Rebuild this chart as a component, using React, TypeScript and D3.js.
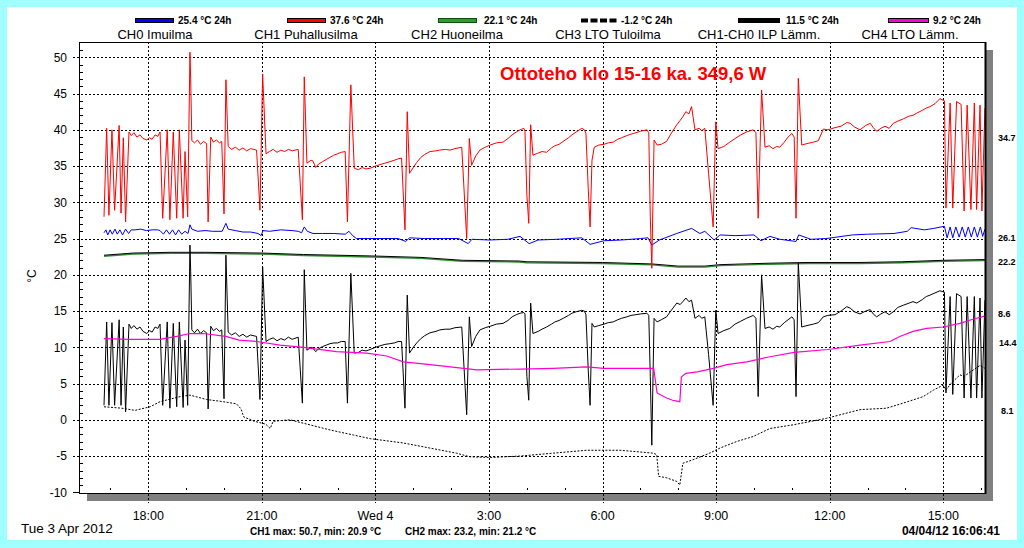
import React, { useEffect, useRef } from 'react';
import * as d3 from 'd3';

type Pt = [number, number];

// time = hours since Tue 3 Apr 00:00, value = °C
const ch0Imuilma: Pt[] = [
  [16.83, 25.8], [16.88, 26.2], [16.93, 25.5], [16.99, 26.2], [17.05, 25.6], [17.12, 26.3], [17.18, 25.6],
  [17.25, 26.2], [17.32, 25.5], [17.4, 26.3], [17.48, 25.7], [17.55, 26.2], [17.65, 26.2], [17.8, 26.3],
  [17.95, 26.1], [18.1, 26.2], [18.25, 26.2], [18.31, 26.1], [18.4, 25.6], [18.48, 26.2], [18.56, 25.6],
  [18.64, 26.2], [18.72, 25.5], [18.8, 26.2], [18.88, 25.6], [18.97, 26.0], [19.05, 25.7], [19.1, 26.9],
  [19.15, 26.3], [19.3, 26.0], [19.5, 26.1], [19.7, 26.0], [19.95, 26.0], [20.05, 27.1], [20.11, 26.3],
  [20.3, 26.1], [20.5, 25.9], [20.7, 25.9], [20.9, 25.7], [20.98, 25.4], [21.03, 26.1], [21.2, 26.0],
  [21.5, 26.2], [21.8, 26.1], [21.96, 26.0], [22.05, 25.8], [22.12, 26.6], [22.2, 26.0], [22.35, 25.7],
  [22.6, 25.7], [22.9, 25.7], [23.2, 25.6], [23.3, 26.0], [23.4, 25.4], [23.5, 25.0], [23.8, 25.0],
  [24.2, 25.0], [24.6, 25.0], [24.8, 24.6], [24.9, 25.1], [25.3, 25.0], [25.8, 25.0], [26.2, 25.0],
  [26.45, 24.3], [26.55, 24.9], [27.0, 24.8], [27.5, 24.9], [27.82, 25.3], [28.06, 24.3], [28.3, 24.8],
  [28.8, 24.9], [29.45, 25.1], [29.67, 24.2], [30.04, 24.7], [30.5, 24.8], [31.0, 25.0], [31.2, 25.1],
  [31.3, 24.1], [31.5, 24.8], [31.96, 25.7], [32.35, 26.4], [32.57, 25.7], [32.7, 26.0], [32.95, 24.8],
  [33.1, 25.5], [33.5, 25.4], [34.0, 25.5], [34.18, 24.7], [34.42, 25.3], [34.68, 24.9], [35.11, 24.6],
  [35.18, 25.5], [35.5, 24.9], [35.9, 25.0], [36.6, 25.5], [37.0, 25.6], [37.7, 25.7], [38.05, 26.0],
  [38.15, 26.5], [38.5, 26.2], [38.75, 26.4], [39.03, 26.7], [39.1, 25.1], [39.18, 26.6], [39.25, 25.1],
  [39.33, 26.6], [39.42, 25.2], [39.5, 26.6], [39.58, 25.2], [39.66, 26.6], [39.74, 25.2], [39.82, 26.6],
  [39.9, 25.2], [39.98, 26.6], [40.04, 25.3], [40.1, 26.3],
];

const ch1Puhallusilma: Pt[] = [
  [16.83, 28.0], [16.9, 40.2], [16.96, 28.2], [17.04, 40.0], [17.11, 28.9], [17.23, 40.6], [17.28, 28.5],
  [17.34, 38.9], [17.4, 27.3], [17.49, 39.7], [17.55, 39.2], [17.62, 39.6], [17.7, 39.0], [17.78, 39.3],
  [17.86, 38.8], [17.96, 38.6], [18.03, 38.9], [18.1, 38.7], [18.18, 39.3], [18.25, 39.1], [18.31, 39.7],
  [18.38, 27.8], [18.5, 40.0], [18.57, 27.6], [18.66, 39.7], [18.75, 27.8], [18.82, 40.0], [18.92, 27.8],
  [18.97, 37.0], [19.04, 28.0], [19.1, 50.7], [19.12, 46.9], [19.15, 38.5], [19.22, 38.2], [19.3, 38.6],
  [19.38, 38.0], [19.46, 38.4], [19.54, 38.1], [19.58, 27.3], [19.65, 39.0], [19.72, 38.3], [19.8, 38.6],
  [19.88, 38.2], [19.94, 38.4], [20.0, 28.4], [20.05, 46.9], [20.11, 37.7], [20.2, 37.3], [20.3, 37.6],
  [20.4, 37.2], [20.5, 37.5], [20.6, 37.1], [20.7, 37.4], [20.86, 37.2], [20.95, 28.9], [21.02, 47.7],
  [21.11, 36.7], [21.2, 37.0], [21.3, 37.3], [21.4, 36.9], [21.5, 37.2], [21.6, 37.0], [21.7, 37.3],
  [21.8, 37.1], [21.96, 37.3], [22.07, 27.6], [22.12, 47.3], [22.19, 35.4], [22.3, 35.8], [22.35, 35.7],
  [22.42, 34.8], [22.5, 35.3], [22.6, 35.6], [22.7, 35.9], [22.8, 36.2], [22.9, 36.5], [23.0, 36.7],
  [23.1, 36.9], [23.2, 37.0], [23.26, 27.3], [23.35, 46.2], [23.44, 34.7], [23.55, 34.5], [23.65, 34.8],
  [23.75, 34.6], [23.86, 34.7], [24.0, 35.0], [24.12, 35.2], [24.25, 35.4], [24.38, 35.6], [24.5, 35.8],
  [24.6, 36.0], [24.69, 36.1], [24.78, 26.2], [24.84, 42.5], [24.9, 34.0], [25.0, 34.8], [25.09, 35.5],
  [25.2, 36.2], [25.3, 36.6], [25.44, 37.0], [25.6, 37.1], [25.7, 37.2], [25.85, 37.3], [25.97, 37.2],
  [26.1, 37.4], [26.28, 37.6], [26.41, 25.0], [26.48, 38.8], [26.54, 35.1], [26.65, 36.4], [26.76, 37.2],
  [26.9, 37.6], [27.03, 37.9], [27.2, 38.2], [27.37, 38.3], [27.5, 38.8], [27.61, 39.3], [27.72, 39.7],
  [27.82, 40.0], [27.92, 40.2], [27.95, 39.8], [28.0, 31.0], [28.05, 27.1], [28.1, 40.7], [28.16, 36.5],
  [28.3, 36.8], [28.4, 37.0], [28.52, 36.9], [28.65, 37.5], [28.74, 37.8], [28.85, 38.0], [28.96, 38.4],
  [29.1, 38.9], [29.19, 39.3], [29.3, 39.7], [29.45, 40.2], [29.52, 40.0], [29.56, 39.5], [29.62, 32.0],
  [29.67, 26.6], [29.72, 35.8], [29.78, 37.6], [29.9, 37.9], [30.04, 38.0], [30.15, 38.2], [30.28, 38.3],
  [30.4, 38.7], [30.5, 38.9], [30.64, 39.2], [30.75, 39.4], [30.88, 39.6], [31.0, 39.8], [31.17, 40.0],
  [31.22, 39.6], [31.26, 28.0], [31.3, 20.9], [31.36, 38.6], [31.44, 37.9], [31.55, 38.0], [31.69, 38.4],
  [31.8, 39.4], [31.96, 40.7], [32.05, 41.3], [32.12, 41.8], [32.2, 42.5], [32.28, 42.2], [32.35, 43.2],
  [32.44, 40.0], [32.55, 40.2], [32.62, 39.9], [32.7, 40.2], [32.8, 34.0], [32.92, 26.6], [32.99, 41.1],
  [33.05, 37.4], [33.2, 37.7], [33.36, 38.3], [33.5, 38.8], [33.65, 39.3], [33.8, 39.7], [33.98, 40.0],
  [34.05, 39.6], [34.11, 27.8], [34.2, 45.5], [34.29, 37.6], [34.4, 37.8], [34.5, 37.4], [34.6, 37.7],
  [34.68, 37.6], [34.8, 38.3], [34.9, 39.0], [35.0, 39.5], [35.06, 39.0], [35.11, 27.8], [35.17, 47.1],
  [35.26, 37.9], [35.4, 38.1], [35.57, 38.3], [35.7, 38.5], [35.83, 40.1], [35.95, 40.0], [36.14, 40.3],
  [36.3, 40.5], [36.45, 41.0], [36.54, 40.9], [36.65, 40.4], [36.8, 40.0], [36.95, 40.6], [37.07, 40.9],
  [37.15, 40.3], [37.24, 39.8], [37.35, 40.2], [37.46, 40.5], [37.57, 40.2], [37.68, 40.9], [37.8, 41.2],
  [37.94, 41.5], [38.1, 41.9], [38.2, 42.0], [38.3, 42.3], [38.45, 42.7], [38.55, 43.0], [38.65, 43.2],
  [38.78, 43.6], [38.91, 44.3], [39.03, 44.0], [39.07, 29.2], [39.18, 43.7], [39.25, 29.2], [39.35, 43.9],
  [39.47, 43.5], [39.55, 28.8], [39.63, 43.4], [39.73, 29.0], [39.82, 43.7], [39.88, 29.0], [39.97, 43.4],
  [40.02, 28.8], [40.1, 43.0],
];

const ch2Huoneilma: Pt[] = [
  [16.83, 22.7], [17.6, 23.0], [18.6, 23.1], [19.5, 23.1], [21.0, 23.0], [22.1, 22.8], [23.9, 22.6],
  [25.2, 22.4], [26.3, 22.0], [27.8, 21.9], [28.0, 21.8], [30.0, 21.7], [31.3, 21.5], [32.0, 21.2],
  [32.7, 21.2], [33.1, 21.4], [34.4, 21.6], [35.4, 21.7], [36.8, 21.7], [37.9, 21.8], [39.0, 22.0],
  [40.1, 22.1],
];

const ch3LtoTuloilma: Pt[] = [
  [16.83, 1.8], [17.3, 1.6], [17.65, 1.3], [18.05, 1.8], [18.31, 2.5], [18.84, 3.2], [19.1, 3.4],
  [19.54, 2.8], [19.98, 2.5], [20.33, 2.2], [20.45, 1.5], [20.52, 0.4], [20.8, -0.2], [21.1, -0.6],
  [21.22, -1.2], [21.3, -0.2], [21.74, 0.0], [22.27, -0.7], [22.8, -1.4], [23.42, -2.1], [23.86, -2.6],
  [24.74, -3.2], [25.44, -3.9], [26.14, -4.6], [26.49, -5.1], [27.03, -5.2], [27.82, -5.0], [28.7, -4.6],
  [29.58, -4.2], [30.46, -4.2], [31.34, -4.6], [31.43, -4.8], [31.48, -7.8], [31.69, -8.0], [31.96, -8.5],
  [32.04, -9.0], [32.12, -6.0], [32.39, -5.5], [32.83, -4.6], [33.1, -3.9], [33.54, -3.0], [33.98, -2.3],
  [34.42, -1.2], [35.03, -0.7], [35.91, 0.2], [36.8, 1.4], [37.5, 1.6], [37.94, 2.3], [38.47, 3.2],
  [38.74, 4.1], [39.0, 4.8], [39.07, 4.1], [39.2, 5.0], [39.44, 6.2], [39.55, 6.0], [39.8, 6.9],
  [39.97, 7.5], [40.1, 7.1],
];

const ch1MinusCh0: Pt[] = [
  [16.83, 2.0], [16.9, 13.5], [16.96, 2.0], [17.04, 13.4], [17.11, 2.0], [17.23, 13.8], [17.28, 2.0],
  [17.34, 12.8], [17.4, 1.1], [17.49, 13.2], [17.55, 12.6], [17.62, 13.0], [17.7, 12.5], [17.78, 12.8],
  [17.86, 12.2], [17.96, 11.9], [18.03, 12.3], [18.1, 12.1], [18.18, 12.8], [18.25, 12.6], [18.31, 13.2],
  [18.38, 2.0], [18.5, 13.5], [18.57, 1.6], [18.66, 13.3], [18.75, 1.8], [18.82, 13.5], [18.92, 1.7],
  [18.97, 11.0], [19.04, 2.0], [19.1, 24.1], [19.12, 20.5], [19.15, 12.4], [19.22, 12.0], [19.3, 12.5],
  [19.38, 11.9], [19.46, 12.3], [19.54, 12.0], [19.58, 1.5], [19.65, 12.9], [19.72, 12.3], [19.8, 12.6],
  [19.88, 12.2], [19.94, 12.4], [20.0, 2.9], [20.05, 22.7], [20.11, 12.1], [20.2, 11.7], [20.3, 12.0],
  [20.4, 11.5], [20.5, 11.8], [20.6, 11.4], [20.7, 11.7], [20.86, 11.5], [20.95, 2.8], [21.02, 21.1],
  [21.11, 10.8], [21.2, 11.1], [21.3, 11.3], [21.4, 10.9], [21.5, 11.2], [21.6, 11.0], [21.7, 11.4],
  [21.8, 11.1], [21.96, 11.4], [22.07, 2.3], [22.12, 20.7], [22.19, 9.6], [22.3, 10.0], [22.35, 9.9],
  [22.42, 9.4], [22.5, 9.8], [22.6, 10.1], [22.7, 10.3], [22.8, 10.5], [22.9, 10.6], [23.0, 10.6],
  [23.1, 10.8], [23.2, 10.8], [23.26, 2.3], [23.35, 20.2], [23.44, 9.2], [23.55, 9.3], [23.65, 9.6],
  [23.75, 9.5], [23.86, 9.7], [24.0, 10.0], [24.12, 10.2], [24.25, 10.4], [24.38, 10.5], [24.5, 10.6],
  [24.6, 10.8], [24.69, 10.8], [24.78, 1.6], [24.84, 17.2], [24.9, 9.2], [25.0, 10.0], [25.09, 10.6],
  [25.2, 11.2], [25.3, 11.6], [25.44, 12.0], [25.6, 12.2], [25.7, 12.4], [25.85, 12.5], [25.97, 12.5],
  [26.1, 12.7], [26.28, 12.8], [26.41, 0.7], [26.48, 14.2], [26.54, 10.1], [26.65, 11.5], [26.76, 12.4],
  [26.9, 12.7], [27.03, 12.9], [27.2, 13.2], [27.37, 13.3], [27.5, 13.7], [27.61, 14.2], [27.72, 14.5],
  [27.82, 14.7], [27.92, 14.8], [27.95, 14.6], [28.0, 6.0], [28.05, 2.7], [28.1, 16.1], [28.16, 11.9],
  [28.3, 12.2], [28.4, 12.5], [28.52, 12.8], [28.65, 13.2], [28.74, 13.5], [28.85, 13.7], [28.96, 14.0],
  [29.1, 14.4], [29.19, 14.7], [29.3, 14.9], [29.45, 15.1], [29.52, 15.0], [29.56, 14.5], [29.62, 7.0],
  [29.67, 2.0], [29.72, 13.3], [29.78, 12.8], [29.9, 13.0], [30.04, 13.2], [30.15, 13.4], [30.28, 13.5],
  [30.4, 13.8], [30.5, 14.0], [30.64, 14.2], [30.75, 14.4], [30.88, 14.5], [31.0, 14.6], [31.17, 14.7],
  [31.22, 14.4], [31.26, 6.0], [31.3, -3.5], [31.36, 14.0], [31.44, 13.5], [31.55, 13.8], [31.69, 14.2],
  [31.8, 15.0], [31.96, 16.1], [32.05, 15.9], [32.12, 16.3], [32.2, 16.8], [32.28, 16.3], [32.35, 16.5],
  [32.44, 14.0], [32.55, 14.4], [32.62, 14.0], [32.7, 14.2], [32.8, 9.0], [32.92, 2.0], [32.99, 15.1],
  [33.05, 11.9], [33.2, 12.3], [33.36, 12.6], [33.5, 13.2], [33.65, 13.6], [33.8, 14.0], [33.98, 14.4],
  [34.05, 14.0], [34.11, 3.2], [34.2, 20.0], [34.29, 12.6], [34.4, 12.8], [34.5, 12.5], [34.6, 12.9],
  [34.68, 12.8], [34.8, 13.4], [34.9, 13.8], [35.0, 14.2], [35.06, 13.8], [35.11, 3.2], [35.17, 21.6],
  [35.26, 12.8], [35.4, 13.0], [35.57, 13.2], [35.7, 13.4], [35.83, 14.2], [35.95, 14.4], [36.14, 14.5],
  [36.3, 15.0], [36.45, 15.6], [36.54, 15.4], [36.65, 14.9], [36.8, 14.6], [36.95, 15.0], [37.07, 15.2],
  [37.15, 14.6], [37.24, 14.2], [37.35, 14.6], [37.46, 14.9], [37.57, 14.5], [37.68, 14.9], [37.8, 15.5],
  [37.94, 15.8], [38.1, 16.1], [38.2, 16.3], [38.3, 16.1], [38.45, 16.6], [38.55, 17.0], [38.65, 17.2],
  [38.78, 17.5], [38.91, 17.8], [39.03, 17.6], [39.07, 3.7], [39.18, 17.0], [39.25, 3.5], [39.35, 17.4],
  [39.47, 17.0], [39.55, 3.0], [39.63, 17.0], [39.73, 3.0], [39.82, 17.0], [39.88, 3.0], [39.97, 16.8],
  [40.02, 3.0], [40.1, 16.5],
];

const ch4LtoLamm: Pt[] = [
  [16.83, 11.2], [17.5, 11.1], [18.3, 11.1], [18.75, 11.5], [19.1, 11.9], [19.45, 11.9], [20.05, 11.5],
  [20.4, 11.0], [20.86, 10.8], [21.48, 10.3], [22.1, 10.0], [22.97, 9.4], [23.77, 9.2], [24.3, 8.8],
  [24.74, 8.0], [25.45, 7.6], [26.33, 7.1], [26.68, 6.9], [27.82, 7.0], [28.7, 7.1], [29.58, 7.3],
  [30.03, 7.1], [31.35, 7.1], [31.44, 3.7], [31.69, 3.0], [31.85, 2.7], [32.04, 2.5], [32.08, 5.9],
  [32.2, 6.4], [32.5, 6.6], [32.93, 7.1], [33.28, 7.6], [33.81, 8.0], [34.42, 8.7], [35.06, 9.3],
  [35.95, 9.7], [36.8, 10.3], [37.59, 10.8], [37.85, 11.5], [38.2, 12.2], [38.56, 12.6], [39.0, 12.8],
  [39.44, 13.3], [39.8, 13.9], [40.1, 14.3],
];

const yTicks = [-10, -5, 0, 5, 10, 15, 20, 25, 30, 35, 40, 45, 50];
const xTicks = [18, 21, 24, 27, 30, 33, 36, 39];
const xTickLabels = ['18:00', '21:00', 'Wed 4', '3:00', '6:00', '9:00', '12:00', '15:00'];

const legendNames = ['CH0 Imuilma', 'CH1 Puhallusilma', 'CH2 Huoneilma', 'CH3 LTO Tuloilma', 'CH1-CH0 ILP Lämm.', 'CH4 LTO Lämm.'];
const legendAverages = ['25.4 °C 24h', '37.6 °C 24h', '22.1 °C 24h', '-1.2 °C 24h', '11.5 °C 24h', '9.2 °C 24h'];
const rightLabels = ['34.7', '26.1', '22.2', '8.6', '14.4', '8.1'];

const FONT = '"Liberation Sans", Arial, sans-serif';
const legendCenter = [155, 306, 457, 608, 759, 910];
const swatchX = [135, 287, 438, 581, 738, 888];
const swatchW = [38, 38, 38, 36, 41, 40];
const avgTextX = [178, 330, 484, 621, 786, 933];
const rightLabelX = [998, 998, 998, 998, 999, 1001];
const rightLabelY = [138, 238, 262, 314, 343, 411];

export default function App() {
  const svgRef = useRef<SVGSVGElement>(null);

  useEffect(() => {
    if (!svgRef.current) return;
    document.body.style.margin = '0';
    const svg = d3.select(svgRef.current);
    svg.selectAll('*').remove();

    const left = 80, right = 985, top = 42, bottom = 493;
    const x = d3.scaleLinear().domain([18, 39]).range([148.3, 943.3]);
    const y = d3.scaleLinear().domain([-10, 50]).range([492.3, 57.3]);

    // frame
    svg.append('rect').attr('width', 1024).attr('height', 548).attr('fill', '#a0ffff');
    svg.append('rect').attr('x', 7).attr('y', 7).attr('width', 1010).attr('height', 533).attr('fill', '#fff');

    // shadow
    svg.append('rect').attr('x', 87).attr('y', bottom + 1).attr('width', right - 87 + 8).attr('height', 7).attr('fill', '#808080');
    svg.append('rect').attr('x', right + 1).attr('y', top + 8).attr('width', 7).attr('height', bottom - top).attr('fill', '#808080');

    // grid
    const grid = svg.append('g').attr('stroke', '#000').attr('stroke-width', 1).attr('stroke-dasharray', '2,2');
    yTicks.filter(v => v > -10).forEach(v => {
      grid.append('line').attr('x1', 73).attr('x2', right).attr('y1', Math.round(y(v)) + 0.5).attr('y2', Math.round(y(v)) + 0.5);
    });
    xTicks.forEach(t => {
      grid.append('line').attr('x1', Math.round(x(t)) + 0.5).attr('x2', Math.round(x(t)) + 0.5).attr('y1', top).attr('y2', 503);
    });

    // minor ticks
    const minor = svg.append('g').attr('stroke', '#000').attr('stroke-width', 1);
    d3.range(-9, 52).filter(v => v % 5 !== 0).forEach(v => {
      const yy = Math.round(y(v)) + 0.5;
      minor.append('line').attr('x1', left).attr('x2', left + 3).attr('y1', yy).attr('y2', yy);
    });
    d3.range(17, 41).filter(h => h % 3 !== 0).forEach(h => {
      const xx = Math.round(x(h)) + 0.5;
      minor.append('line').attr('x1', xx).attr('x2', xx).attr('y1', bottom - 5).attr('y2', bottom - 3);
    });
    minor.append('line').attr('x1', 73).attr('x2', left).attr('y1', Math.round(y(-10)) + 0.5).attr('y2', Math.round(y(-10)) + 0.5);

    // series
    svg.append('clipPath').attr('id', 'plot-clip')
      .append('rect').attr('x', left).attr('y', top).attr('width', right - left).attr('height', bottom - top);
    const plot = svg.append('g').attr('clip-path', 'url(#plot-clip)').attr('fill', 'none');
    const line = d3.line<Pt>().x(d => x(d[0])).y(d => y(d[1]));

    plot.append('path').datum(ch3LtoTuloilma).attr('d', line)
      .attr('stroke', '#000').attr('stroke-width', 1).attr('stroke-dasharray', '2,1.5');
    // CH2 is drawn as a dark line with a green edge, as in the original
    plot.append('path').datum(ch2Huoneilma).attr('d', line).attr('transform', 'translate(0,1)')
      .attr('stroke', '#2e8b2e').attr('stroke-width', 1.4);
    plot.append('path').datum(ch2Huoneilma).attr('d', line)
      .attr('stroke', '#000').attr('stroke-width', 1);
    plot.append('path').datum(ch0Imuilma).attr('d', line)
      .attr('stroke', '#0000ff').attr('stroke-width', 1);
    plot.append('path').datum(ch1MinusCh0).attr('d', line)
      .attr('stroke', '#000').attr('stroke-width', 1);
    plot.append('path').datum(ch4LtoLamm).attr('d', line)
      .attr('stroke', '#ff00d4').attr('stroke-width', 1.2);
    plot.append('path').datum(ch1Puhallusilma).attr('d', line)
      .attr('stroke', '#ff0000').attr('stroke-width', 1);

    // border
    svg.append('rect').attr('x', left - 0.5).attr('y', top + 0.5).attr('width', right - left + 1).attr('height', bottom - top)
      .attr('fill', 'none').attr('stroke', '#000').attr('stroke-width', 1);
    svg.append('line').attr('x1', right + 0.5).attr('x2', right + 0.5).attr('y1', top).attr('y2', bottom + 1)
      .attr('stroke', '#000').attr('stroke-width', 2);

    // axis labels
    const txt = svg.append('g').attr('font-family', FONT).attr('fill', '#000');
    yTicks.forEach(v => {
      txt.append('text').attr('x', 67).attr('y', y(v)).attr('dy', '0.36em')
        .attr('text-anchor', 'end').attr('font-size', 12).text(String(v));
    });
    xTicks.forEach((t, i) => {
      txt.append('text').attr('x', x(t)).attr('y', 520).attr('text-anchor', 'middle')
        .attr('font-size', 12.5).text(xTickLabels[i]);
    });
    txt.append('text').attr('transform', 'translate(36,276) rotate(-90)').attr('text-anchor', 'middle')
      .attr('font-size', 12).text('°C');

    // legend
    legendNames.forEach((name, i) => {
      txt.append('text').attr('x', legendCenter[i]).attr('y', 39).attr('text-anchor', 'middle')
        .attr('font-size', 13).text(name);
      txt.append('text').attr('x', avgTextX[i]).attr('y', 24).attr('font-size', 10)
        .attr('font-weight', 'bold').text(legendAverages[i]);
    });
    const sw = svg.append('g');
    const swatchFill = ['#0000ff', '#ff0000', '#2f9a2f', '#000', '#000', '#ff00d4'];
    swatchFill.forEach((c, i) => {
      if (i === 3) {
        d3.range(4).forEach(k => {
          sw.append('rect').attr('x', swatchX[i] + k * 9.5).attr('y', 18.5).attr('width', 7).attr('height', 4).attr('fill', '#000');
        });
        return;
      }
      sw.append('rect').attr('x', swatchX[i] + 0.5).attr('y', 18.5).attr('width', swatchW[i]).attr('height', 4)
        .attr('fill', c).attr('stroke', i === 2 ? '#0d4d0d' : '#000').attr('stroke-width', 1);
    });

    // right side values
    rightLabels.forEach((s, i) => {
      txt.append('text').attr('x', rightLabelX[i]).attr('y', rightLabelY[i]).attr('dy', '0.36em')
        .attr('font-size', 9).attr('font-weight', 'bold').text(s);
    });

    // annotation
    txt.append('text').attr('x', 500).attr('y', 80).attr('font-size', 18.5).attr('font-weight', 'bold')
      .attr('fill', '#ff0000').text('Ottoteho klo 15-16 ka. 349,6 W');

    // footer
    txt.append('text').attr('x', 21).attr('y', 533).attr('font-size', 13.5).text('Tue 3 Apr 2012');
    txt.append('text').attr('x', 250).attr('y', 535).attr('font-size', 10).attr('font-weight', 'bold')
      .text('CH1 max: 50.7, min: 20.9 °C');
    txt.append('text').attr('x', 405).attr('y', 535).attr('font-size', 10).attr('font-weight', 'bold')
      .text('CH2 max: 23.2, min: 21.2 °C');
    txt.append('text').attr('x', 1000).attr('y', 535).attr('text-anchor', 'end').attr('font-size', 12)
      .attr('font-weight', 'bold').text('04/04/12 16:06:41');
  }, []);

  return (
    <svg
      ref={svgRef}
      width={1024}
      height={548}
      style={{ position: 'absolute', left: 0, top: 0, display: 'block' }}
    />
  );
}
